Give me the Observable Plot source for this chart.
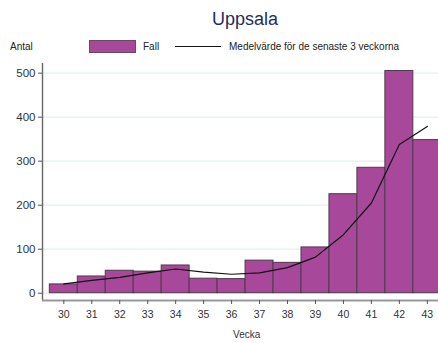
<!DOCTYPE html>
<html>
<head>
<meta charset="utf-8">
<script src="https://cdn.jsdelivr.net/npm/d3@7"></script>
<script src="https://cdn.jsdelivr.net/npm/@observablehq/plot@0.6"></script>
<style>
  body { margin: 0; background: #fff; font-family: "Liberation Sans", Arial, sans-serif; }
  #wrap { width: 438px; height: 343px; position: relative; overflow: hidden; }
  #header { position: relative; height: 58px; }
  #title { position: absolute; left: 0; width: 438px; top: 9px; text-align: center; padding-left: 52px; box-sizing: border-box; font-size: 18px; color: #1f2d5c; }
  .lt { position: absolute; font-size: 10px; color: #222; top: 41px; line-height: 12px; }
  #sw { position: absolute; left: 89px; top: 40px; width: 45px; height: 11px; background: #a8489b; border: 1px solid #6a4a66; }
  #ln { position: absolute; left: 175px; top: 46px; width: 46px; height: 0; border-top: 1.2px solid #111; }
</style>
</head>
<body>
<div id="wrap">
  <div id="header">
    <div id="title">Uppsala</div>
    <div class="lt" style="left:10px">Antal</div>
    <div id="sw"></div>
    <div class="lt" style="left:143px">Fall</div>
    <div id="ln"></div>
    <div class="lt" style="left:229px">Medelvärde för de senaste 3 veckorna</div>
  </div>
  <div id="chart"></div>
</div>
<script>
const weeks = [30, 31, 32, 33, 34, 35, 36, 37, 38, 39, 40, 41, 42, 43];
const cases = [20, 38, 51, 49, 63, 33, 32, 74, 69, 104, 225, 285, 505, 348];
const rollingMean = [21, 29, 36, 46, 55, 48, 43, 46, 58, 82, 133, 205, 338, 379];
const yTicks = [0, 100, 200, 300, 400, 500];

const data = weeks.map((w, i) => ({week: w, cases: cases[i], mean: rollingMean[i]}));

const chart = Plot.plot({
  width: 438,
  height: 285,
  marginLeft: 42,
  marginRight: 0,
  marginTop: 5,
  marginBottom: 43,
  style: {fontFamily: "'Liberation Sans', Arial, sans-serif", background: "#fff"},
  x: {domain: [29.238, 43.40], ticks: weeks, tickFormat: d => String(d), label: null},
  y: {domain: [-16.6, 522], ticks: yTicks, label: null},
  marks: [
    Plot.gridY(yTicks, {stroke: "#e4eeee", strokeOpacity: 1, strokeWidth: 1.2}),
    Plot.rectY(data, {x1: d => d.week - 0.5, x2: d => d.week + 0.5, y1: 0, y2: "cases", fill: "#a8489b", stroke: "#4e3a4c", strokeWidth: 1, clip: true}),
    Plot.lineY(data, {x: "week", y: "mean", stroke: "#111", strokeWidth: 1.2, curve: "linear"}),
    Plot.axisY(yTicks, {tickSize: 4, tickPadding: 3, fontSize: 11.5, stroke: "#555", fill: "#333"}),
    Plot.ruleX([29.238], {stroke: "#666", strokeWidth: 1.4}),
    Plot.ruleY([-16.6], {stroke: "#999", strokeWidth: 2}),
    Plot.axisX(weeks, {tickSize: 4, tickPadding: 6, fontSize: 10.5, stroke: "#555", fill: "#333", label: null}),
    Plot.text(["Vecka"], {x: () => 36.54, y: () => -16.6, dy: 34, fontSize: 10, fill: "#333"})
  ]
});
document.getElementById("chart").appendChild(chart);
</script>
</body>
</html>
